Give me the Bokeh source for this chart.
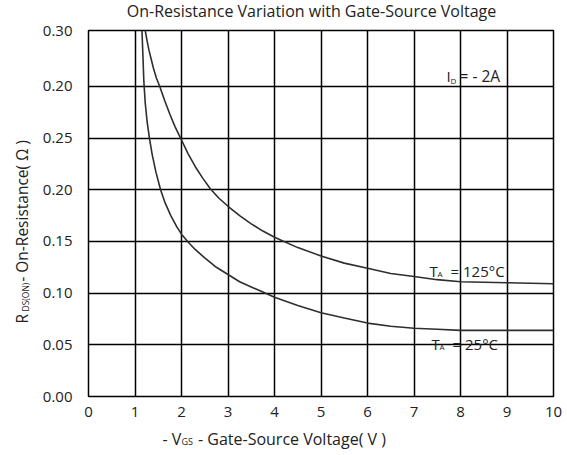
from bokeh.plotting import figure
from bokeh.models import Range1d, FixedTicker, CustomJSTickFormatter, Label
from bokeh.embed import file_html
from bokeh.resources import INLINE
import math

# ---- data ----
V_125 = [1.22, 1.26, 1.30, 1.35, 1.40, 1.46, 1.53, 1.64, 1.75, 1.86, 1.98, 2.14, 2.3, 2.46, 2.62, 2.8, 3.0, 3.25, 3.5, 3.75, 4.0, 4.5, 5.0, 5.5, 6.0, 6.5, 7.0, 7.5, 8.0, 9.0, 10.0]
R_125 = [0.354, 0.344, 0.335, 0.326, 0.317, 0.308, 0.300, 0.286, 0.273, 0.261, 0.250, 0.235, 0.222, 0.211, 0.201, 0.192, 0.184, 0.175, 0.167, 0.160, 0.154, 0.144, 0.136, 0.129, 0.124, 0.119, 0.116, 0.113, 0.111, 0.110, 0.109]

V_25 = [1.15, 1.17, 1.19, 1.22, 1.26, 1.31, 1.37, 1.45, 1.55, 1.65, 1.77, 1.90, 2.0, 2.15, 2.3, 2.5, 2.75, 3.0, 3.25, 3.5, 3.75, 4.0, 4.5, 5.0, 5.5, 6.0, 6.5, 7.0, 7.5, 8.0, 9.0, 10.0]
R_25 = [0.354, 0.330, 0.305, 0.284, 0.266, 0.250, 0.234, 0.217, 0.200, 0.187, 0.175, 0.164, 0.157, 0.149, 0.142, 0.134, 0.125, 0.118, 0.111, 0.106, 0.101, 0.096, 0.088, 0.081, 0.076, 0.071, 0.068, 0.066, 0.065, 0.064, 0.064, 0.064]

X_TICKS = [0, 1, 2, 3, 4, 5, 6, 7, 8, 9, 10]
Y_TICKS = [0.0, 0.05, 0.10, 0.15, 0.20, 0.25, 0.30, 0.354]
Y_LABELS = ["0.00", "0.05", "0.10", "0.15", "0.20", "0.25", "0.20", "0.30"]

X_MIN, X_MAX = 0, 10
Y_MIN, Y_MAX = 0.0, 0.354

FONT = "Open Sans"
TXT = "#222222"
NB = "\u00a0"

# frame geometry (pixels) used to place annotations
FL, FR, FT, FB = 88, 553, 30, 396
W, H = 567, 455


def dx(px):
    return X_MIN + (px - FL) / (FR - FL) * (X_MAX - X_MIN)


def dy(py):
    return Y_MIN + (FB - py) / (FB - FT) * (Y_MAX - Y_MIN)


p = figure(width=W, height=H, output_backend="svg", toolbar_location=None,
           x_range=Range1d(X_MIN, X_MAX), y_range=Range1d(Y_MIN, Y_MAX),
           min_border_left=FL, min_border_right=W - FR,
           min_border_top=FT, min_border_bottom=H - FB)

p.background_fill_color = "white"
p.border_fill_color = "white"
p.outline_line_color = "black"
p.outline_line_width = 1.5

for ax in (p.xaxis, p.yaxis):
    ax.axis_line_color = None
    ax.major_tick_line_color = None
    ax.minor_tick_line_color = None
    ax.major_tick_out = 0
    ax.major_tick_in = 0
    ax.minor_tick_out = 0
    ax.minor_tick_in = 0
    ax.major_label_text_font = FONT
    ax.major_label_text_font_size = "15px"
    ax.major_label_text_color = TXT

p.xaxis.ticker = FixedTicker(ticks=X_TICKS)
p.xaxis.major_label_standoff = 10
p.yaxis.ticker = FixedTicker(ticks=Y_TICKS)
p.yaxis.major_label_standoff = 16
p.yaxis.formatter = CustomJSTickFormatter(
    args=dict(labels=Y_LABELS, all_ticks=Y_TICKS),
    code="""
    let best = 0;
    for (let i = 0; i < all_ticks.length; i++) {
        if (Math.abs(all_ticks[i] - tick) < Math.abs(all_ticks[best] - tick)) best = i;
    }
    return labels[best];
    """)

p.xgrid.ticker = FixedTicker(ticks=X_TICKS)
p.ygrid.ticker = FixedTicker(ticks=Y_TICKS)
for g in (p.xgrid, p.ygrid):
    g.grid_line_color = "black"
    g.grid_line_width = 1.5
    g.grid_line_alpha = 1.0

p.line(V_125, R_125, line_color="#2e2e2e", line_width=1.6)
p.line(V_25, R_25, line_color="#2e2e2e", line_width=1.6)


def lab(text, px, py, size=15, align="left", baseline="alphabetic", angle=0.0, place=None):
    l = Label(x=dx(px), y=dy(py), text=text, text_font=FONT,
              text_font_size=f"{size}px", text_color=TXT,
              text_align=align, text_baseline=baseline, angle=angle)
    if place is None:
        p.add_layout(l)
    else:
        p.add_layout(l, place)


# title (top panel)
lab("On-Resistance Variation with Gate-Source Voltage", 311, 10, size=16, align="center", place="above")

# x axis label: main text in bottom panel, subscript hosted in the (narrow) right panel
lab("- V" + NB * 4 + "- Gate-Source Voltage( V )", 162, 438, size=16, place="below")
lab("GS", 181, 441, size=9, place="right")

# y axis label (rotated) with subscript, both in the left panel
lab("R" + NB * 8 + "- On-Resistance( Ω )", 21, 323, size=15.5, angle=math.pi / 2, place="left")
lab("DS(ON)", 25, 311, size=8.5, angle=math.pi / 2, place="left")

# in-plot annotations
lab("I", 446, 75, size=15)
lab("D", 450, 80, size=8)
lab("= - 2A", 459, 75, size=15.5)

lab("T", 429, 270, size=15)
lab("A", 437, 273, size=8)
lab("=  125°C", 450, 270, size=15)

lab("T", 431, 343, size=15)
lab("A", 439, 346, size=8)
lab("=  25°C", 452, 343, size=15)

open("out.html", "w").write(file_html(p, INLINE))
